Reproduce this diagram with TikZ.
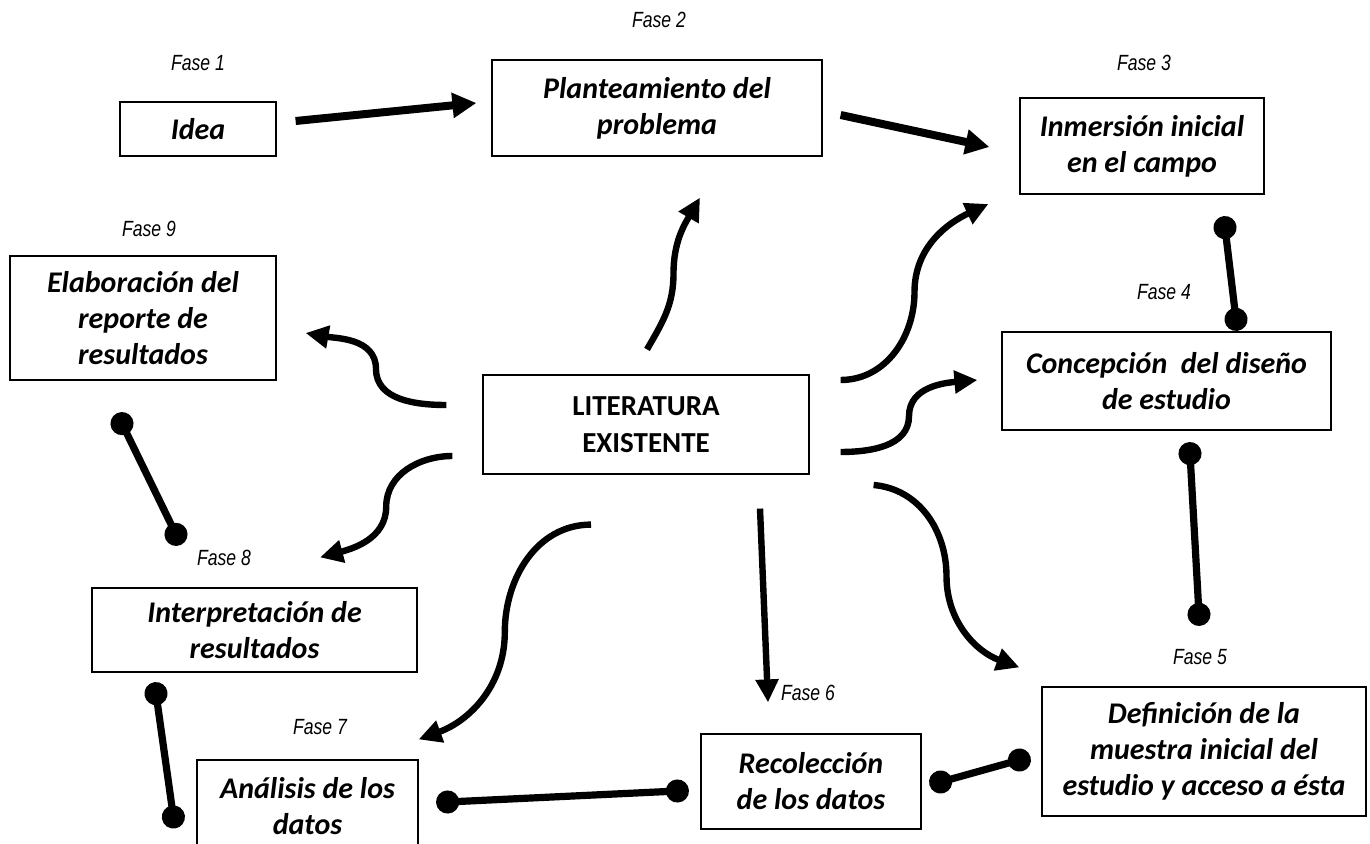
\documentclass[tikz,border=0pt]{standalone}
\usepackage{fontspec}
\setmainfont{Carlito}
\newfontfamily\fasefont{Liberation Sans}[FakeStretch=0.8]
\usetikzlibrary{arrows.meta,positioning,calc}

\begin{document}
\begin{tikzpicture}[x=0.5pt, y=0.5pt,
        every node/.style={align=center, inner sep=0pt},
        phaseBox/.style={
                draw, line width=0.6pt,
                font=\fontsize{15}{18}\selectfont\bfseries\itshape
            },
        litBox/.style={
                draw, line width=0.6pt,
                font=\fontsize{14.5}{18.5}\selectfont\bfseries
            },
        phaseLabel/.style={font=\fasefont\itshape\fontsize{11}{13}\selectfont},
        straightArrow/.style={line width=4pt, -{Triangle[length=12pt,width=12pt]}},
        curveArrow/.style={line width=3.2pt, -{Triangle[length=11.5pt,width=11pt]}},
        dumbbell/.style={
                line width=3.6pt, {Circle[length=11.5pt]}-{Circle[length=11.5pt]},
                shorten <=-5.75pt, shorten >=-5.75pt
            }
    ]

    \useasboundingbox (0,0) rectangle (1370,-844);

    % Boxes of the phases
    \node[phaseBox, minimum width=78pt, minimum height=27pt] (idea) at (198,-129) {Idea};
    \node[phaseBox, minimum width=165pt, minimum height=48pt] (plant) at (657,-108) {Planteamiento del\\problema};
    \node[phaseBox, minimum width=122pt, minimum height=48pt] (inmer) at (1142,-146) {Inmersión inicial\\en el campo};
    \node[phaseBox, minimum width=164.5pt, minimum height=49pt] (concep) at (1166.5,-381) {Concepción~~del diseño\\de estudio};
    \node[phaseBox, minimum width=162pt, minimum height=64.5pt] (defin) at (1204,-751.5) {Definición de la\\muestra inicial del\\estudio y acceso a ésta};
    \node[phaseBox, minimum width=110pt, minimum height=47.5pt] (recol) at (811,-781.5) {Recolección\\de los datos};
    \node[phaseBox, minimum width=110.5pt, minimum height=46pt] (anal) at (307.5,-806) {Análisis de los\\datos};
    \node[phaseBox, minimum width=162.5pt, minimum height=42pt] (interp) at (254.5,-630) {Interpretación de\\resultados};
    \node[phaseBox, minimum width=133pt, minimum height=62pt] (elab) at (143,-318) {Elaboración del\\reporte de\\resultados};
    \node[litBox, minimum width=163pt, minimum height=49.5pt] (lit) at (646,-424.5) {LITERATURA\\EXISTENTE};

    % Phase labels
    \node[phaseLabel] (f1) at (198,-63) {Fase 1};
    \node[phaseLabel] (f2) at (659,-20) {Fase 2};
    \node[phaseLabel] (f3) at (1144,-63) {Fase 3};
    \node[phaseLabel] (f4) at (1164,-292) {Fase 4};
    \node[phaseLabel] (f5) at (1200,-657) {Fase 5};
    \node[phaseLabel] (f6) at (808,-693) {Fase 6};
    \node[phaseLabel] (f7) at (320,-727) {Fase 7};
    \node[phaseLabel] (f8) at (224,-558) {Fase 8};
    \node[phaseLabel] (f9) at (149,-229) {Fase 9};

    % Straight arrows
    \draw[straightArrow] ($(idea.east)+(19,8)$) -- ($(plant.west)+(-15,5)$);
    \draw[straightArrow] ($(plant.east)+(18,-7)$) -- ($(inmer.west)+(-30,-1)$);

    % Curved arrows out of the literature
    \coordinate (s2) at ($(lit.north)+(1,25)$);
    \coordinate (t2) at ($(plant.south)+(43,-41)$);
    \coordinate (s3) at ($(lit.east)+(31,44.5)$);
    \coordinate (t3) at ($(inmer.west)+(-31,-58)$);
    \coordinate (s4) at ($(lit.east)+(31,-27.5)$);
    \coordinate (t4) at ($(concep.west)+(-24,1)$);
    \coordinate (s5) at ($(lit.east)+(64,-60.5)$);
    \coordinate (t5) at ($(defin.north west)+(-22,19)$);
    \coordinate (s6) at ($(lit.south)+(114,-34)$);
    \coordinate (t6) at ($(recol.north)+(-43,31)$);
    \coordinate (s7) at ($(lit.south)+(-55,-50)$);
    \coordinate (t7) at ($(anal.north east)+(0,20)$);
    \coordinate (s8) at ($(lit.west)+(-30,-31.5)$);
    \coordinate (t8) at ($(interp.north)+(65.5,30)$);
    \coordinate (s9) at ($(lit.west)+(-36,19.5)$);
    \coordinate (t9) at ($(elab.east)+(29,-15)$);

    \draw[curveArrow] (s2) to[out=60,in=-90] ($(s2)!.5!(t2)$) to[out=90,in=-120] (t2);
    \draw[curveArrow] (s3) to[out=0,in=-90] ($(s3)!.5!(t3)$) to[out=90,in=-155] (t3);
    \draw[curveArrow] (s4) to[out=0,in=-90] ($(s4)!.5!(t4)$) to[out=90,in=-175] (t4);
    \draw[curveArrow] (s5) to[out=-5,in=90] ($(s5)!.5!(t5)$) to[out=-90,in=160] (t5);
    \draw[curveArrow] (s6) -- (t6);
    \draw[curveArrow] (s7) to[out=180,in=90] ($(s7)!.5!(t7)$) to[out=-90,in=20] (t7);
    \draw[curveArrow] (s8) to[out=180,in=90] ($(s8)!.5!(t8)$) to[out=-90,in=15] (t8);
    \draw[curveArrow] (s9) to[out=180,in=-90] ($(s9)!.5!(t9)$) to[out=90,in=-10] (t9);

    % Links between consecutive phases
    \draw[dumbbell] ($(inmer.south)+(83,-33)$) -- ($(concep.north)+(69.5,12)$);
    \draw[dumbbell] ($(concep.south)+(23.5,-23)$) -- ($(defin.north)+(-5,72)$);
    \draw[dumbbell] ($(defin.west)+(-22,-8.5)$) -- ($(recol.east)+(19,-0.5)$);
    \draw[dumbbell] ($(recol.west)+(-23,-9.5)$) -- ($(anal.east)+(29,4)$);
    \draw[dumbbell] ($(anal.west)+(-23,-11)$) -- ($(interp.south)+(-98.5,-21)$);
    \draw[dumbbell] ($(interp.north)+(-78.5,53)$) -- ($(elab.south)+(-21,-43)$);
\end{tikzpicture}
\end{document}
